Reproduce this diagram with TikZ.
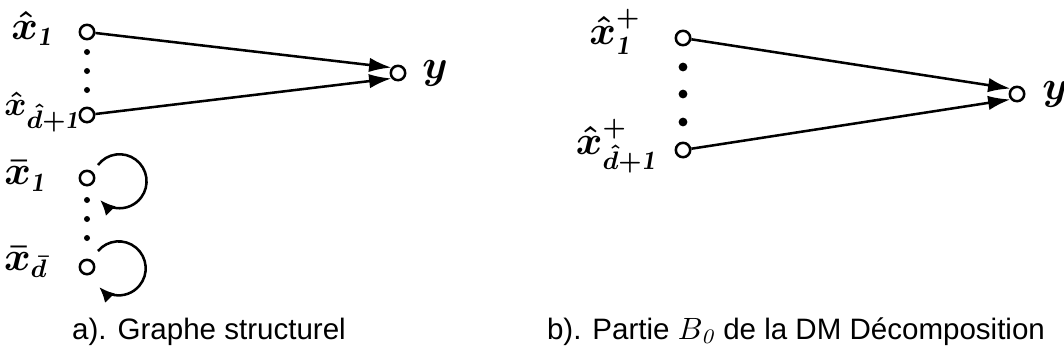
\documentclass[tikz,border=0pt]{standalone}
\usepackage{amsmath, amssymb}
\usepackage{fontspec}
\newfontfamily\capfont{Liberation Sans}
\usetikzlibrary{positioning,arrows.meta}
\newcommand{\bsym}[1]{\boldsymbol{#1}}
\newcommand{\bone}{\boldsymbol{\mathit{1}}}
\tikzset{
  flowarrow/.style={-{Latex[length=2.8mm, width=1.8mm]}, line width=0.9pt},
  loopline/.style={-{Latex[length=1.9mm, width=1.7mm]}, line width=0.9pt},
  varnode/.style={draw, circle, line width=0.9pt, fill=white, minimum size=0.18cm, inner sep=0pt},
  dotnode/.style={circle, fill=black, minimum size=0.075cm, inner sep=0pt},
  bigdot/.style={circle, fill=black, minimum size=0.11cm, inner sep=0pt},
  lblnode/.style={inner sep=0pt, font=\fontsize{13.5}{16}\selectfont},
  captext/.style={anchor=base, inner sep=0pt, font=\capfont\fontsize{10.5}{12}\selectfont}
}
\begin{document}
\begin{tikzpicture}[x=0.0125cm, y=0.0125cm, >=Latex]
  \useasboundingbox (0,0) rectangle (1064,-361);
  % a) graphe structurel
  \node[varnode] (xh1) at (87,-32) {};
  \node[varnode] (xhd) at (87,-115) {};
  \node[varnode] (xb1) at (87,-178) {};
  \node[varnode] (xbd) at (87,-267) {};
  \node[varnode] (ya) at (398,-73) {};
  \foreach \yy in {52,71,90,200,219,238}
    \node[dotnode] at (87,-\yy) {};
  \node[lblnode] (lxh1) at (32,-28) {$\bsym{\hat{x}}_{\bone}$};
  \node[lblnode, anchor=east, font=\fontsize{12.5}{15}\selectfont] (lxhd) at (80,-112) {$\bsym{\hat{x}}_{\bsym{\hat{d}}\bsym{+}\bone}$};
  \node[lblnode] (lxb1) at (25,-176) {$\bsym{\bar{x}}_{\bone}$};
  \node[lblnode] (lxbd) at (26,-262) {$\bsym{\bar{x}}_{\bsym{\bar{d}}}$};
  \node[lblnode] (lya) at (435,-73) {$\bsym{y}$};
  \draw[flowarrow] (xh1) -- (ya.140);
  \draw[flowarrow] (xhd) -- (ya.220);
  \coordinate (l1) at ([shift={(11,13)}]xb1.center);
  \coordinate (l2) at ([shift={(11,16)}]xbd.center);
  \draw[loopline] (l1) arc[start angle=143, end angle=-136, radius=27];
  \draw[loopline] (l2) arc[start angle=140, end angle=-136, radius=27];
  % b) partie B0
  \node[varnode] (xp1) at (683,-38) {};
  \node[varnode] (xpd) at (683,-150) {};
  \node[varnode] (yb) at (1017,-94) {};
  \foreach \yy in {67,94,122}
    \node[bigdot] at (683,-\yy) {};
  \node[lblnode] (lxp1) at (615,-32) {$\bsym{\hat{x}}^{\bsym{+}}_{\bone}$};
  \node[lblnode, anchor=east] (lxpd) at (657,-146) {$\bsym{\hat{x}}^{\bsym{+}}_{\bsym{\hat{d}}\bsym{+}\bone}$};
  \node[lblnode] (lyb) at (1055,-94) {$\bsym{y}$};
  \draw[flowarrow] (xp1) -- (yb.140);
  \draw[flowarrow] (xpd) -- (yb.220);
  % captions
  \node[captext] (capa) at (209,-339) {a). Graphe structurel};
  \node[captext] (capb) at (796,-339) {b). Partie $B_{\mathit{0}}$ de la DM Décomposition};
\end{tikzpicture}
\end{document}
